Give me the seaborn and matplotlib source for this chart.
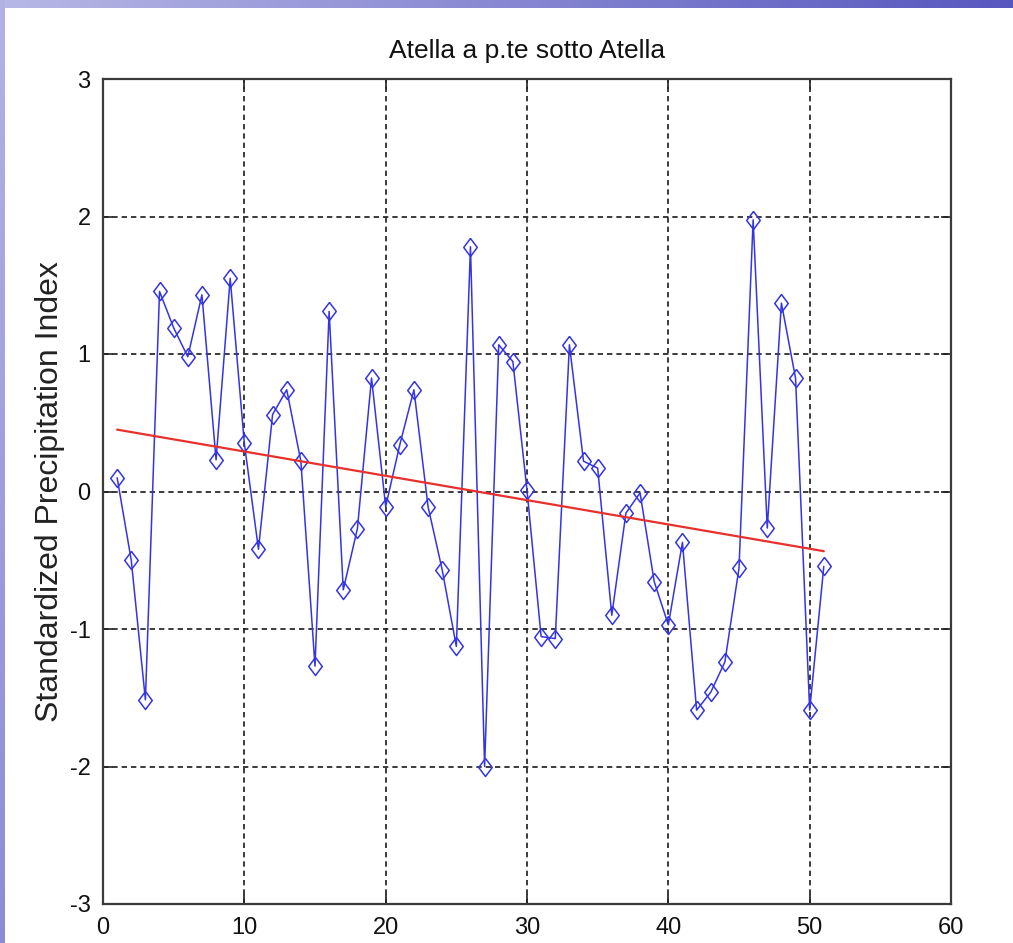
import numpy as np
import pandas as pd
import matplotlib
matplotlib.use("Agg")
import matplotlib.pyplot as plt
from matplotlib import font_manager
import seaborn as sns

# Annual series of the Standardized Precipitation Index
years = list(range(1, 52))
spi = [0.10, -0.50, -1.515, 1.455, 1.19, 0.98, 1.43, 0.23, 1.55, 0.35,
       -0.42, 0.56, 0.74, 0.22, -1.27, 1.31, -0.715, -0.27, 0.825, -0.11,
       0.34, 0.74, -0.11, -0.57, -1.127, 1.78, -2.0, 1.067, 0.945, 0.01,
       -1.055, -1.07, 1.067, 0.22, 0.17, -0.90, -0.157, -0.01, -0.655, -0.97,
       -0.37, -1.59, -1.46, -1.24, -0.557, 1.976, -0.266, 1.37, 0.825, -1.59,
       -0.545]
x_ticks = [0, 10, 20, 30, 40, 50, 60]
y_ticks = [-3, -2, -1, 0, 1, 2, 3]
title = "Atella a p.te sotto Atella"
ylabel = "Standardized Precipitation Index"

df = pd.DataFrame({"year": years, "spi": spi})
slope, intercept = np.polyfit(df["year"], df["spi"], 1)
df["trend"] = intercept + slope * df["year"]

sns.set_theme(style="white")
names = {f.name for f in font_manager.fontManager.ttflist}
family = "Liberation Sans Narrow" if "Liberation Sans Narrow" in names else "Liberation Sans"
plt.rcParams["font.family"] = [family, "DejaVu Sans"]

W, H = 1013, 943
fig = plt.figure(figsize=(W / 100, H / 100), dpi=100)

# slide background: bluish band on top and a strip on the left
bg = np.ones((H, W, 3))
t = np.linspace(0, 1, W)
top_l = np.array([0.72, 0.72, 0.90])
top_r = np.array([0.34, 0.34, 0.75])
bg[:8, :, :] = (top_l[None, :] * (1 - t[:, None]) + top_r[None, :] * t[:, None])[None, :, :]
s = np.linspace(0, 1, H)
left_t = np.array([0.70, 0.70, 0.89])
left_b = np.array([0.55, 0.55, 0.84])
bg[:, :5, :] = (left_t[None, :] * (1 - s[:, None]) + left_b[None, :] * s[:, None])[:, None, :]
bax = fig.add_axes([0, 0, 1, 1], zorder=-10)
bax.imshow(bg, aspect="auto", interpolation="bilinear")
bax.axis("off")

ax = fig.add_axes([103 / W, 1 - 904 / H, (951 - 103) / W, (904 - 79) / H])
ax.set_facecolor("white")

diamond = [(0, 1), (0.75, 0), (0, -1), (-0.75, 0), (0, 1)]
sns.lineplot(data=df, x="year", y="spi", ax=ax, color="#3434e4", linewidth=1.1,
             marker=diamond, markersize=13, markerfacecolor="none",
             markeredgecolor="#3434e4", markeredgewidth=1.1, zorder=3)
sns.lineplot(data=df, x="year", y="trend", ax=ax, color="#e8302c",
             linewidth=1.6, zorder=4)

ax.set_xlim(0, 60)
ax.set_ylim(-3, 3)
ax.set_xticks(x_ticks)
ax.set_yticks(y_ticks)
ax.set_xticklabels([str(v) for v in x_ticks])
ax.set_yticklabels([str(v) for v in y_ticks])

ax.grid(True, color="#1a1a1a", linestyle=(0, (3.2, 2.4)), linewidth=1.2, zorder=0)
ax.set_axisbelow(True)
for sp in ax.spines.values():
    sp.set_visible(True)
    sp.set_color("#3a3a3a")
    sp.set_linewidth(1.6)
ax.tick_params(direction="in", length=7, width=1.2, color="#222222",
               top=True, right=True, bottom=True, left=True,
               labelsize=17, labelcolor="#111111", pad=9)

ax.set_title(title, fontsize=19, color="#111111", pad=15)
ax.set_ylabel(ylabel, fontsize=23, color="#222222", labelpad=3)
ax.set_xlabel("")

fig.savefig("out.png", dpi=100)
